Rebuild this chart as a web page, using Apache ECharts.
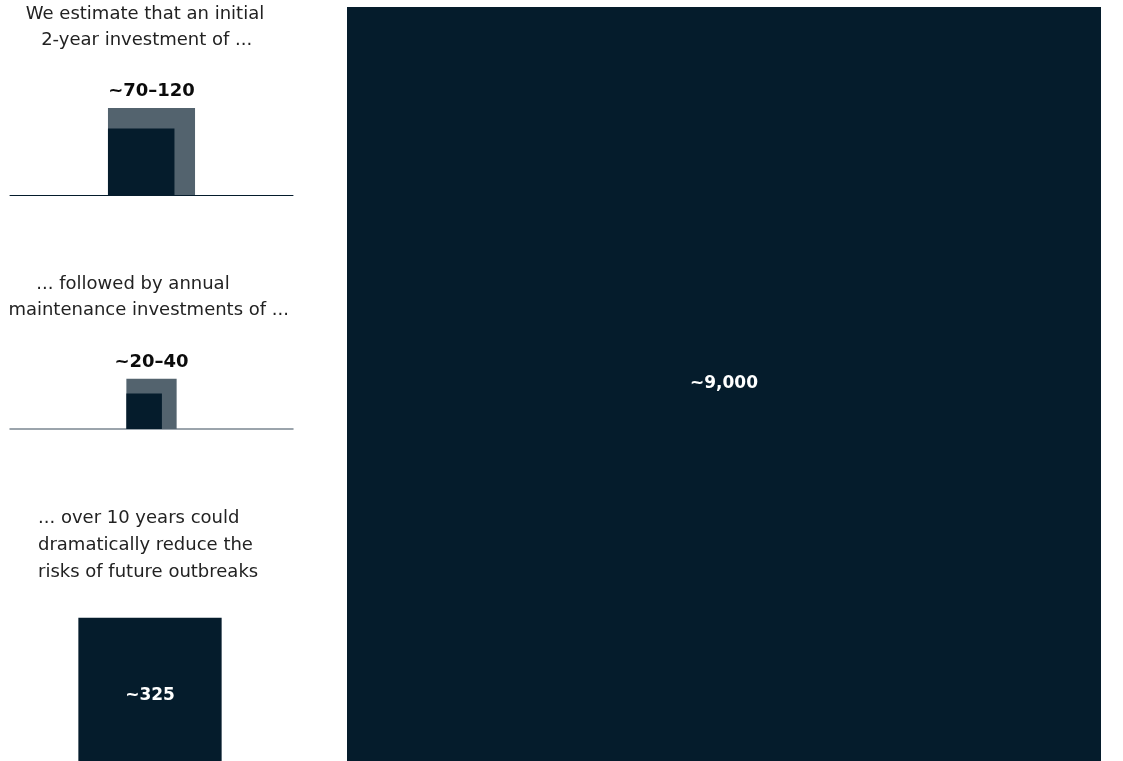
<!DOCTYPE html>
<html>
<head>
<meta charset="utf-8">
<script src="https://cdn.jsdelivr.net/npm/echarts@6/dist/echarts.min.js"></script>
<style>
html,body{margin:0;padding:0;background:#ffffff;}
#chart{width:1123px;height:761px;}
</style>
</head>
<body>
<div id="chart"></div>
<script>
// ---------------- data ----------------
const panelNames = ['initial', 'maintenance', 'tenYear', 'outbreak'];
const initialInvestment = [120, 70];     // high, low ($ billion)
const annualMaintenance = [40, 20];      // high, low ($ billion)
const tenYearTotal = [325];              // ($ billion)
const outbreakCost = [9000];             // ($ billion)
const valueLabels = ['~70–120', '~20–40', '~325', '~9,000'];
const captionLines = [
  ['We estimate that an initial', '2-year investment of ...'],
  ['... followed by annual', 'maintenance investments of ...'],
  ['... over 10 years could', 'dramatically reduce the', 'risks of future outbreaks']
];

// ---------------- style / layout ----------------
const NAVY = '#051c2c';
const GREY = '#53636e';
const TEXT = '#222222';
const FONT = '"DejaVu Sans", sans-serif';

// grids (pixel layout); every square sits on the grid bottom, centred
const grids = [
  {left: 10,  top: 60,  width: 283, height: 135},
  {left: 10,  top: 330, width: 283, height: 99},
  {left: 0,   top: 600, width: 300, height: 161},
  {left: 347, top: 7,   width: 754, height: 754}
];
// one common scale: pixels per sqrt(value) unit, fixed by the largest square
const K = grids[3].width / Math.sqrt(outbreakCost[0]);

const panelValues = [initialInvestment, annualMaintenance, tenYearTotal, outbreakCost];
const rangeColors = [GREY, NAVY];

const xAxes = grids.map((g, i) => ({
  type: 'value', gridIndex: i,
  min: -g.width / 2 / K, max: g.width / 2 / K,
  axisLine: {show: i < 2, onZero: false,
    lineStyle: {color: i === 0 ? NAVY : '#7b8791', width: i === 0 ? 1 : 1.5}},
  axisTick: {show: false}, axisLabel: {show: false}, splitLine: {show: false}
}));
const yAxes = grids.map((g, i) => ({
  type: 'value', gridIndex: i, min: 0, max: g.height / K,
  axisLine: {show: false}, axisTick: {show: false},
  axisLabel: {show: false}, splitLine: {show: false}
}));

function makeRenderer(panel) {
  return function (params, api) {
    const v = api.value(0);
    const anchor = api.value(1);
    const s = Math.sqrt(v);
    const a = Math.sqrt(anchor);
    const x0 = -a / 2;
    const pTL = api.coord([x0, s]);
    const pBR = api.coord([x0 + s, 0]);
    const children = [{
      type: 'rect',
      shape: {x: pTL[0], y: pTL[1], width: pBR[0] - pTL[0], height: pBR[1] - pTL[1]},
      style: {fill: api.visual('color')}
    }];
    if (params.dataIndex === 0) {
      let tx, ty, fill, font;
      if (panel < 2) {
        const top = api.coord([0, s]);
        tx = top[0]; ty = top[1] - 16.5; fill = '#0b0b0b';
        font = 'bold 18px ' + FONT;
      } else {
        const mid = api.coord([0, s / 2]);
        tx = mid[0]; ty = mid[1] + (panel === 2 ? 6 : 0); fill = '#ffffff';
        font = 'bold 17px ' + FONT;
      }
      children.push({
        type: 'text',
        style: {text: valueLabels[panel], x: tx, y: ty, fill: fill, font: font,
          align: 'center', verticalAlign: 'middle',
          textAlign: 'center', textVerticalAlign: 'middle'}
      });
    }
    return {type: 'group', children: children};
  };
}

const series = panelValues.map((vals, panel) => ({
  type: 'custom',
  name: panelNames[panel],
  coordinateSystem: 'cartesian2d',
  xAxisIndex: panel, yAxisIndex: panel,
  renderItem: makeRenderer(panel),
  silent: true,
  clip: false,
  z: 5,
  data: vals.map((v, i) => ({
    value: [v, vals[0]],
    itemStyle: {color: vals.length > 1 ? rangeColors[i] : NAVY}
  }))
}));

// caption text anchors (pixel layout)
const captionAnchors = [
  [{x: 145, y: 14.7, align: 'center'}, {x: 146.7, y: 40, align: 'center'}],
  [{x: 133, y: 284.5, align: 'center'}, {x: 148.7, y: 310.5, align: 'center'}],
  [{x: 38, y: 518.3, align: 'left'}, {x: 38, y: 545.5, align: 'left'}, {x: 38, y: 572.4, align: 'left'}]
];
const graphics = [];
captionLines.forEach((lines, c) => {
  lines.forEach((line, l) => {
    const a = captionAnchors[c][l];
    graphics.push({
      type: 'text', x: a.x, y: a.y, silent: true,
      style: {text: line, fill: TEXT, font: '18px ' + FONT,
        align: a.align, verticalAlign: 'middle',
        textAlign: a.align, textVerticalAlign: 'middle'}
    });
  });
});

const chart = echarts.init(document.getElementById('chart'), null, {renderer: 'canvas'});
chart.setOption({
  backgroundColor: '#ffffff',
  animation: false,
  grid: grids.map(g => Object.assign({containLabel: false}, g)),
  xAxis: xAxes,
  yAxis: yAxes,
  series: series,
  graphic: graphics
});
</script>
</body>
</html>
